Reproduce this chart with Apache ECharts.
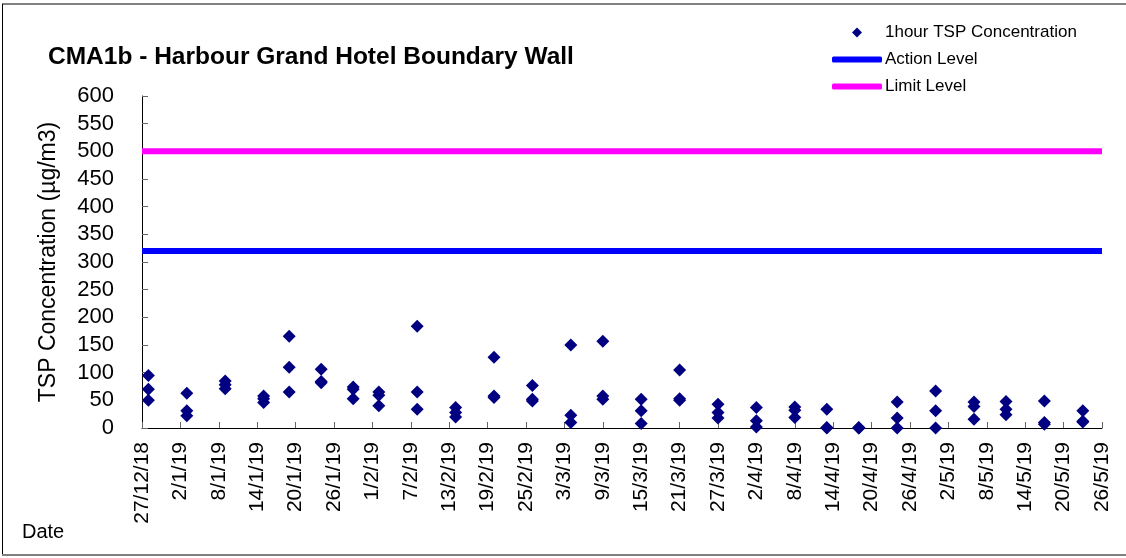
<!DOCTYPE html>
<html>
<head>
<meta charset="utf-8">
<script src="https://cdn.jsdelivr.net/npm/echarts@6/dist/echarts.min.js"></script>
<style>
  html, body { margin: 0; padding: 0; background: #fff; }
  #chart { width: 1126px; height: 558px; }
</style>
</head>
<body>
<div id="chart"></div>
<script>
  // sampling days, three 1-hour readings each
  var sampleDates = ['28/12/18', '3/1/19', '9/1/19', '15/1/19', '19/1/19', '24/1/19', '29/1/19', '2/2/19', '8/2/19',
    '14/2/19', '20/2/19', '26/2/19', '4/3/19', '9/3/19', '15/3/19', '21/3/19', '27/3/19', '2/4/19',
    '8/4/19', '13/4/19', '18/4/19', '24/4/19', '30/4/19', '6/5/19', '11/5/19', '17/5/19', '23/5/19'];
  var reading1 = [95, 63, 85, 58, 166, 106, 74, 65, 184, 37, 128, 77, 150, 157, 52, 105, 43, 37, 38, 34, 1, 47, 67, 47, 48, 49, 31];
  var reading2 = [70, 31, 78, 53, 110, 84, 70, 59, 65, 28, 58, 52, 23, 58, 31, 53, 28, 13, 32, 1, 0, 18, 31, 39, 34, 10, 12];
  var reading3 = [50, 22, 71, 46, 65, 82, 53, 40, 34, 20, 55, 49, 10, 52, 8, 50, 18, 2, 19, 0, 0, 0, 0, 16, 24, 7, 11];

  var axisStart = '27/12/18';
  var axisEnd = '26/5/19';
  var actionLevel = 320;
  var limitLevel = 500;

  var DAY = 86400000;
  function parseDate(s) {
    var p = s.split('/');
    return Date.UTC(2000 + Number(p[2]), Number(p[1]) - 1, Number(p[0]));
  }
  var base = parseDate(axisStart);
  function dayNo(s) { return Math.round((parseDate(s) - base) / DAY); }
  function fmtDay(v) {
    var d = new Date(base + v * DAY);
    return d.getUTCDate() + '/' + (d.getUTCMonth() + 1) + '/' + String(d.getUTCFullYear()).slice(2);
  }

  var points = [];
  sampleDates.forEach(function (d, i) {
    var x = dayNo(d);
    points.push([x, reading1[i]], [x, reading2[i]], [x, reading3[i]]);
  });
  var lastDay = dayNo(axisEnd);

  var font = 'Liberation Sans, Arial, sans-serif';
  var chart = echarts.init(document.getElementById('chart'));
  var option = {
    animation: false,
    title: [
      {
        text: 'CMA1b - Harbour Grand Hotel Boundary Wall',
        left: 48, top: 45, padding: 0,
        textStyle: { fontFamily: font, fontSize: 24.5, fontWeight: 'bold', color: '#000' }
      },
      {
        text: 'Date',
        left: 22, top: 522, padding: 0,
        textStyle: { fontFamily: font, fontSize: 20, fontWeight: 'normal', color: '#000' }
      }
    ],
    legend: [
      {
        orient: 'vertical',
        left: 852, top: 24, padding: 0,
        itemWidth: 10, itemHeight: 10,
        textStyle: { fontFamily: font, fontSize: 17, color: '#000', padding: [0, 0, 0, 18] },
        data: [{ name: '1hour TSP Concentration', icon: 'diamond' }]
      },
      {
        orient: 'vertical',
        left: 832, top: 51, padding: 0,
        itemWidth: 50, itemHeight: 6, itemGap: 10,
        textStyle: { fontFamily: font, fontSize: 17, color: '#000', padding: [0, 0, 0, -2] },
        data: [
          { name: 'Action Level', icon: 'roundRect' },
          { name: 'Limit Level', icon: 'roundRect' }
        ]
      }
    ],
    grid: { left: 142, right: 24, top: 96, bottom: 130 },
    xAxis: {
      type: 'value',
      min: 0, max: lastDay, interval: 6,
      axisLine: { lineStyle: { color: '#000', width: 1 } },
      axisTick: { inside: true, length: 6, lineStyle: { color: '#666' } },
      axisLabel: {
        rotate: 90, margin: 14,
        fontFamily: font, fontSize: 21, color: '#000',
        formatter: fmtDay
      },
      splitLine: { show: false }
    },
    yAxis: {
      type: 'value',
      min: 0, max: 600, interval: 50,
      name: 'TSP Concentration (µg/m3)',
      nameLocation: 'middle', nameGap: 82,
      nameTextStyle: { fontFamily: font, fontSize: 23, color: '#000' },
      axisLine: { show: true, lineStyle: { color: '#000', width: 1 } },
      axisTick: { show: true, inside: true, length: 6, lineStyle: { color: '#666' } },
      axisLabel: { margin: 28, fontFamily: font, fontSize: 22, color: '#000' },
      splitLine: { show: false }
    },
    graphic: [
      { type: 'line', shape: { x1: 2, y1: 4, x2: 1126, y2: 4 }, style: { stroke: '#808080', lineWidth: 2 } },
      { type: 'line', shape: { x1: 2.5, y1: 4, x2: 2.5, y2: 556 }, style: { stroke: '#000', lineWidth: 1 } },
      { type: 'line', shape: { x1: 2, y1: 555, x2: 1126, y2: 555 }, style: { stroke: '#808080', lineWidth: 2 } }
    ],
    series: [
      {
        name: 'Action Level',
        type: 'line',
        symbol: 'none',
        data: [[0, actionLevel], [lastDay, actionLevel]],
        lineStyle: { color: '#0000ff', width: 6 },
        itemStyle: { color: '#0000ff' },
        z: 2
      },
      {
        name: 'Limit Level',
        type: 'line',
        symbol: 'none',
        data: [[0, limitLevel], [lastDay, limitLevel]],
        lineStyle: { color: '#ff00ff', width: 6 },
        itemStyle: { color: '#ff00ff' },
        z: 2
      },
      {
        name: '1hour TSP Concentration',
        type: 'scatter',
        symbol: 'diamond',
        symbolSize: 13,
        clip: false,
        itemStyle: { color: '#000080', opacity: 1 },
        data: points,
        z: 3
      }
    ]
  };
  chart.setOption(option);
</script>
</body>
</html>
